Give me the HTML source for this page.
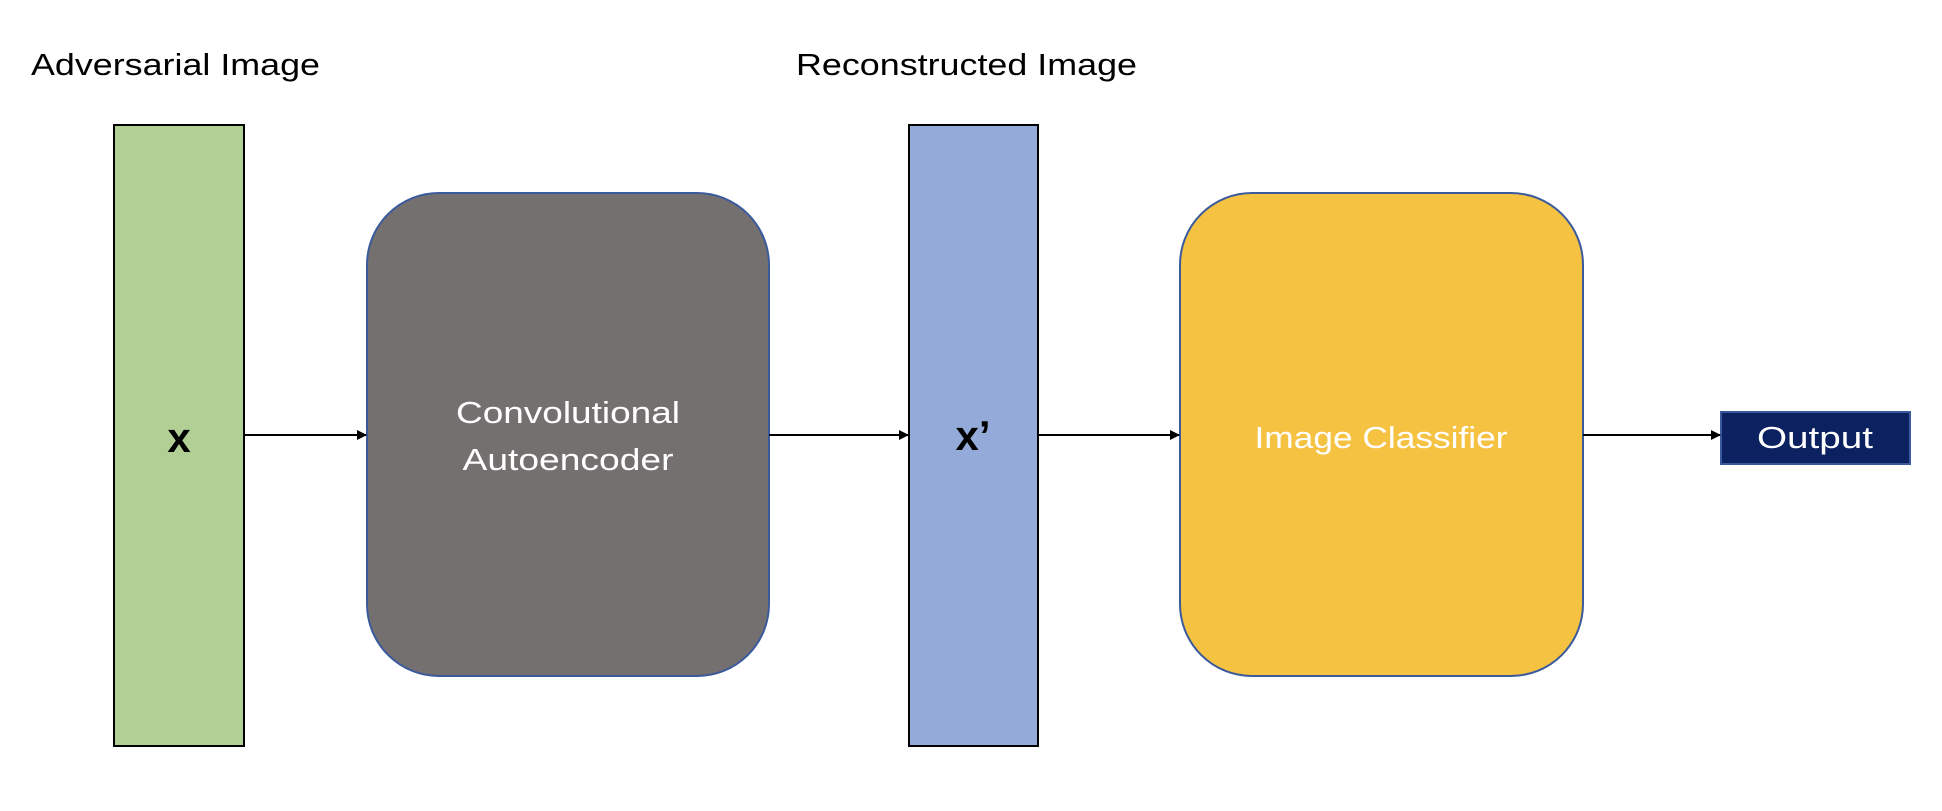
<!DOCTYPE html>
<html><head><meta charset="utf-8"><style>
html,body{margin:0;padding:0;background:#fff;}
body{width:1942px;height:806px;position:relative;overflow:hidden;font-family:"Liberation Sans",sans-serif;}
</style></head><body>
<svg width="1942" height="806" xmlns="http://www.w3.org/2000/svg" font-family="Liberation Sans, sans-serif">
<defs><marker id="a" markerWidth="10" markerHeight="10" refX="9" refY="5" orient="auto" markerUnits="userSpaceOnUse"><path d="M0,0 L10,5 L0,10 z" fill="#000"/></marker></defs>
<text x="31" y="75" font-size="31" fill="#000" textLength="289" lengthAdjust="spacingAndGlyphs">Adversarial Image</text>
<text x="796" y="75" font-size="31" fill="#000" textLength="341" lengthAdjust="spacingAndGlyphs">Reconstructed Image</text>
<rect x="114" y="125" width="130" height="621" fill="#b2d095" stroke="#000" stroke-width="2"/>
<text x="179" y="452" font-size="42" font-weight="bold" text-anchor="middle" fill="#000">x</text>
<rect x="367" y="193" width="402" height="483" rx="72" fill="#757070" stroke="#3a5a9c" stroke-width="2"/>
<text x="568" y="423" font-size="31" text-anchor="middle" fill="#fff" textLength="224" lengthAdjust="spacingAndGlyphs">Convolutional</text>
<text x="568" y="470" font-size="31" text-anchor="middle" fill="#fff" textLength="211" lengthAdjust="spacingAndGlyphs">Autoencoder</text>
<rect x="909" y="125" width="129" height="621" fill="#94abd9" stroke="#000" stroke-width="2"/>
<text x="973" y="450" font-size="42" font-weight="bold" text-anchor="middle" fill="#000">x’</text>
<rect x="1180" y="193" width="403" height="483" rx="72" fill="#f5c242" stroke="#3a5a9c" stroke-width="2"/>
<text x="1381" y="448" font-size="31" text-anchor="middle" fill="#fff" textLength="253" lengthAdjust="spacingAndGlyphs">Image Classifier</text>
<rect x="1721" y="412" width="189" height="52" fill="#0c2160" stroke="#3a5a9c" stroke-width="2"/>
<text x="1815" y="448" font-size="31" text-anchor="middle" fill="#fff" textLength="116" lengthAdjust="spacingAndGlyphs">Output</text>
<g stroke="#000" stroke-width="2" marker-end="url(#a)">
<line x1="244" y1="435" x2="366" y2="435"/>
<line x1="769" y1="435" x2="908" y2="435"/>
<line x1="1038" y1="435" x2="1179" y2="435"/>
<line x1="1583" y1="435" x2="1720" y2="435"/>
</g>
</svg>
</body></html>
